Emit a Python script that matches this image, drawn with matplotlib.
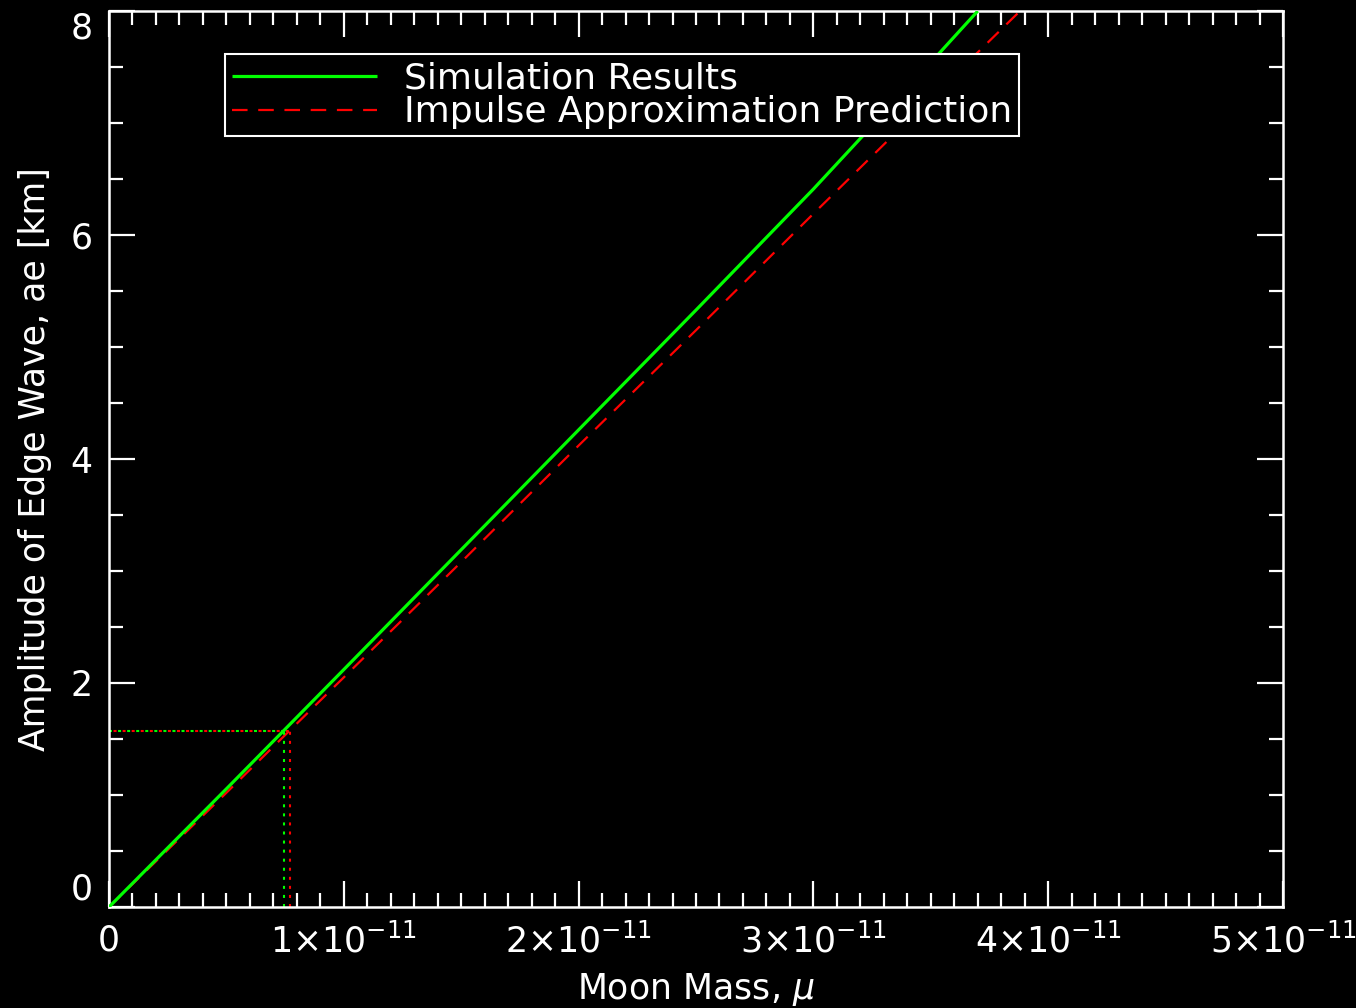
import matplotlib
matplotlib.use("Agg")
import matplotlib.pyplot as plt
from matplotlib.ticker import MultipleLocator, FixedLocator
import numpy as np

# Simulation results: moon mass vs. edge-wave amplitude [km]
sim_mass = np.array([0.0, 0.5, 1.0, 1.5, 2.0, 2.5, 3.0, 3.5, 3.7]) * 1e-11
sim_amp = [0.0, 1.055, 2.12, 3.19, 4.26, 5.33, 6.41, 7.54, 8.0]

# Impulse approximation prediction
imp_mass = np.array([0.0, 0.5, 1.0, 1.5, 2.0, 2.5, 3.0, 3.5, 3.88]) * 1e-11
imp_amp = [0.0, 1.02, 2.05, 3.08, 4.12, 5.15, 6.19, 7.22, 8.0]

# Reference amplitude and the masses that produce it
ref_amp = 1.571
ref_mass_sim = 0.745e-11
ref_mass_imp = 0.771e-11

x_ticks = np.array([0, 1, 2, 3, 4, 5]) * 1e-11
x_tick_labels = ["0", r"1×10$^{-11}$", r"2×10$^{-11}$", r"3×10$^{-11}$",
                 r"4×10$^{-11}$", r"5×10$^{-11}$"]
y_ticks = [0, 2, 4, 6, 8]

GREEN = "#00ff00"
RED = "#ff0000"
FG = "white"
FS = 25

plt.rcParams["font.family"] = ["DejaVu Sans"]
plt.rcParams["mathtext.fontset"] = "dejavusans"

fig = plt.figure(figsize=(13.56, 10.08), dpi=100, facecolor="black")
ax = fig.add_axes([109 / 1356, 1 - 907 / 1008, (1283 - 109) / 1356, (907 - 11) / 1008])
ax.set_facecolor("black")

ax.plot(sim_mass, sim_amp, color=GREEN, lw=2.3, label="Simulation Results",
        solid_capstyle="butt", zorder=3)
ax.plot(imp_mass, imp_amp, color=RED, lw=1.6, linestyle=(0, (7.0, 4.8)),
        label="Impulse Approximation Prediction", zorder=2)

# dotted guides to the reference amplitude
dot = (1.45, 2.9)
ax.plot([0, ref_mass_sim], [ref_amp, ref_amp], color=GREEN, lw=1.5,
        linestyle=(0, dot), zorder=2)
ax.plot([0, ref_mass_imp], [ref_amp, ref_amp], color=RED, lw=1.5,
        linestyle=(2.17, dot), zorder=2)
ax.plot([ref_mass_sim, ref_mass_sim], [0, ref_amp], color=GREEN, lw=1.5,
        linestyle=(0, dot), zorder=2)
ax.plot([ref_mass_imp, ref_mass_imp], [0, ref_amp], color=RED, lw=1.5,
        linestyle=(0, dot), zorder=2)

ax.set_xlim(0, 5e-11)
ax.set_ylim(0, 8)

ax.xaxis.set_major_locator(FixedLocator(x_ticks))
ax.set_xticklabels(x_tick_labels)
ax.xaxis.set_minor_locator(MultipleLocator(1e-12))
ax.yaxis.set_major_locator(FixedLocator(y_ticks))
ax.set_yticklabels([str(v) for v in y_ticks])
ax.yaxis.set_minor_locator(MultipleLocator(0.5))

ax.tick_params(which="both", direction="in", top=True, right=True,
               colors=FG, labelcolor=FG, width=1.6)
ax.tick_params(which="major", length=19, labelsize=FS)
ax.tick_params(axis="x", which="major", pad=12)
ax.tick_params(axis="y", which="major", pad=12)
ax.tick_params(which="minor", length=10)

ylabels = ax.get_yticklabels()
ylabels[0].set_va("bottom")
ylabels[-1].set_va("top")

for sp in ax.spines.values():
    sp.set_color(FG)
    sp.set_linewidth(1.8)

ax.set_xlabel(r"Moon Mass, $\mu$", color=FG, fontsize=FS, labelpad=8)
ax.set_ylabel("Amplitude of Edge Wave, ae [km]", color=FG, fontsize=FS,
              labelpad=13)

leg = ax.legend(loc="upper left",
                bbox_to_anchor=((225 - 109) / 1174, (907 - 54) / 896),
                borderaxespad=0, fontsize=26, frameon=True, fancybox=False,
                framealpha=1, facecolor="black", edgecolor=FG,
                handlelength=4.0, handletextpad=0.75, labelspacing=0.0,
                borderpad=0.2)
leg.get_frame().set_linewidth(1.5)
for t in leg.get_texts():
    t.set_color(FG)

fig.savefig("out.png", dpi=100, facecolor="black")
